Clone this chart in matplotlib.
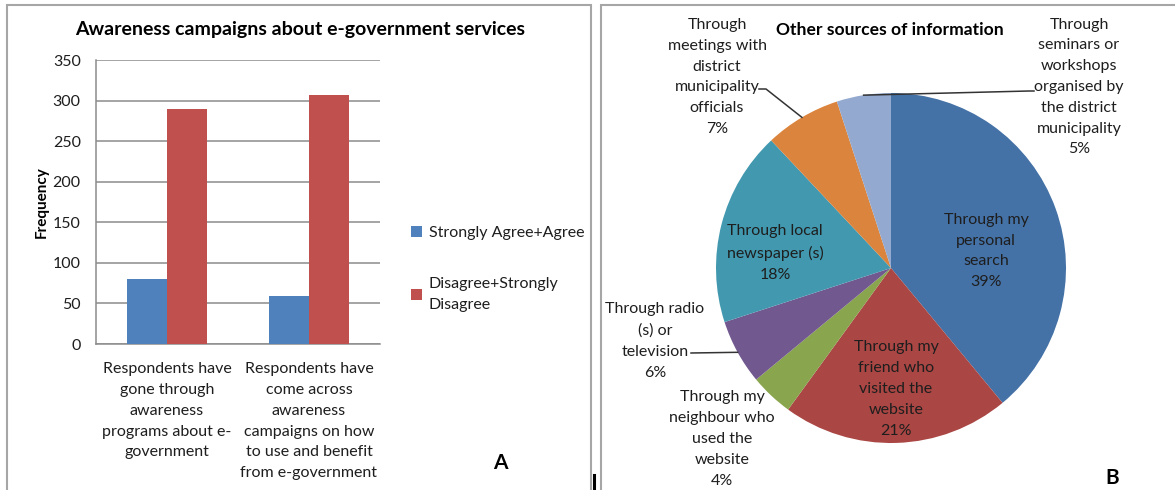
import matplotlib
matplotlib.use("Agg")
import matplotlib.pyplot as plt
from matplotlib.patches import Rectangle
from matplotlib.lines import Line2D
import numpy as np

plt.rcParams["font.family"] = ["Lato", "DejaVu Sans"]

W, H = 1175, 490

# --- panel A data
categories = [
    "Respondents have\ngone through\nawareness\nprograms about e-\ngovernment",
    "Respondents have\ncome across\nawareness\ncampaigns on how\nto use and benefit\nfrom e-government",
]
agree = [80, 59]
disagree = [290, 307]
series_names = ["Strongly Agree+Agree", "Disagree+Strongly\nDisagree"]
yticks = [0, 50, 100, 150, 200, 250, 300, 350]

# --- panel B data
sources = [
    "Through my\npersonal\nsearch",
    "Through my\nfriend who\nvisited the\nwebsite",
    "Through my\nneighbour who\nused the\nwebsite",
    "Through radio\n(s) or\ntelevision",
    "Through local\nnewspaper (s)",
    "Through\nmeetings with\ndistrict\nmunicipality\nofficials",
    "Through\nseminars or\nworkshops\norganised by\nthe district\nmunicipality",
]
shares = [39, 21, 4, 6, 18, 7, 5]
pie_colors = ["#4471A6", "#AA4643", "#89A54E", "#71588F", "#4198AF", "#DB843D", "#93A9CF"]

LS = 1.62
TXT = "#1E1E1E"


def fx(px):
    return px / W


def fy(py):
    return 1 - py / H


fig = plt.figure(figsize=(W / 100, H / 100), dpi=100)

# panel frames
for x0, x1 in [(7, 591), (600.5, 1180)]:
    fig.patches.append(Rectangle((fx(x0), fy(500)), fx(x1) - fx(x0), fy(5) - fy(500),
                                 transform=fig.transFigure, fill=False,
                                 edgecolor="#A6A6A6", linewidth=1.5))
fig.lines.append(Line2D([fx(593.5), fx(593.5)], [fy(475), fy(492)],
                        transform=fig.transFigure, color="black", linewidth=2.2))

# ---------------- bar chart
ax = fig.add_axes([fx(96), fy(344), fx(380) - fx(96), fy(60) - fy(344)])
x = np.arange(len(categories))
bw = 0.282
ax.bar(x - bw / 2, agree, bw, color="#4F81BD", label=series_names[0], zorder=3)
ax.bar(x + bw / 2, disagree, bw, color="#C0504D", label=series_names[1], zorder=3)
ax.set_xlim(-0.5, 1.5)
ax.set_ylim(0, 350)
ax.set_yticks(yticks)
ax.yaxis.grid(True, color="#8C8C8C", linewidth=1.1, zorder=0)
ax.set_xticks(x)
ax.set_xticklabels(categories, fontsize=11.5, color=TXT, linespacing=LS)
ax.tick_params(axis="both", length=0, labelsize=11.5, labelcolor=TXT)
ax.tick_params(axis="x", pad=13)
ax.tick_params(axis="y", pad=11)
for s in ["top", "right"]:
    ax.spines[s].set_visible(False)
for s in ["left", "bottom"]:
    ax.spines[s].set_color("#8C8C8C")
    ax.spines[s].set_linewidth(1.1)
ax.set_ylabel("Frequency", fontsize=11, fontweight="bold", labelpad=3)
leg = ax.legend(loc="upper left", bbox_to_anchor=(fx(403), fy(218)),
                bbox_transform=fig.transFigure, frameon=False,
                fontsize=11.5, handlelength=0.7, handleheight=0.7, handletextpad=0.4,
                labelspacing=2.3, borderpad=0)
for t in leg.get_texts():
    t.set_linespacing(LS)
    t.set_color(TXT)

fig.text(fx(300), fy(30), "Awareness campaigns about e-government services",
         ha="center", va="center", fontsize=14, fontweight="bold")
fig.text(fx(500), fy(463), "A", ha="center", va="center", fontsize=15, fontweight="bold")

# ---------------- pie chart
R = 175
cx, cy = 891, 268
pax = fig.add_axes([fx(cx - R), fy(cy + R), fx(2 * R), fy(0) - fy(2 * R)])
wedges, _ = pax.pie(shares, colors=pie_colors, startangle=90, counterclock=False,
                    wedgeprops=dict(linewidth=0))
pax.set_xlim(-1, 1)
pax.set_ylim(-1, 1)
pax.set_aspect("auto")
pax.axis("off")


def d(px, py):
    return ((px - cx) / R, (cy - py) / R)


label_pos = [d(986, 251), d(896, 389), d(722, 439), d(655, 341),
             d(775, 253), d(717, 77), d(1079, 87)]
for name, v, pos in zip(sources, shares, label_pos):
    pax.text(pos[0], pos[1], f"{name}\n{v}%", ha="center", va="center",
             fontsize=11.5, color=TXT, linespacing=LS)

# leader lines from outer labels to wedge midpoints
cum = np.cumsum([0] + shares[:-1])
mid = np.deg2rad(90 - 360 * (cum + np.array(shares) / 2) / 100)
leaders = {5: [d(759, 89), d(766, 89)], 6: [d(1034, 91), d(1029, 91)],
           3: [d(691, 353)]}
for i, pts in leaders.items():
    xs = [p[0] for p in pts] + [np.cos(mid[i])]
    ys = [p[1] for p in pts] + [np.sin(mid[i])]
    pax.plot(xs, ys, color="#333333", linewidth=1.1, clip_on=False)

fig.text(fx(890), fy(30), "Other sources of information",
         ha="center", va="center", fontsize=12.6, fontweight="bold")
fig.text(fx(1112), fy(478), "B", ha="center", va="center", fontsize=15, fontweight="bold")

fig.savefig("out.png", dpi=100)
